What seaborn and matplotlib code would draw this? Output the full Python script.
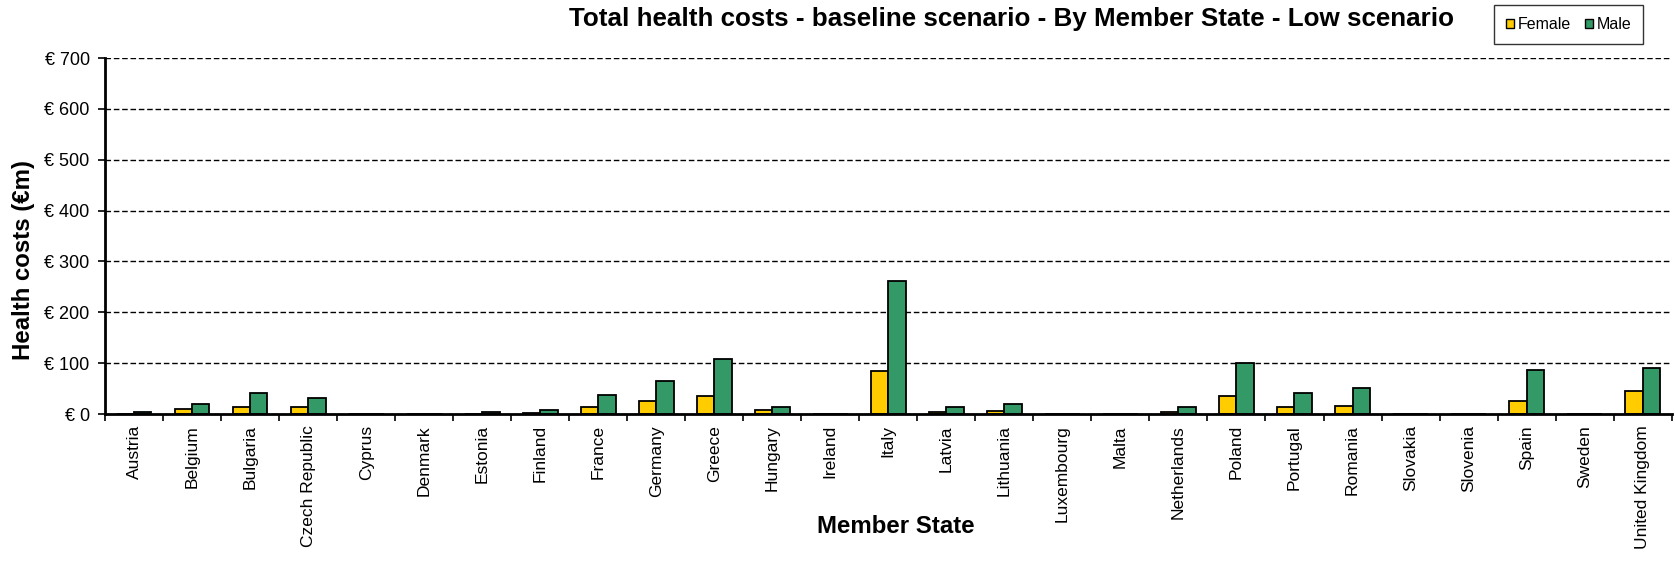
import matplotlib
matplotlib.use("Agg")
import matplotlib.pyplot as plt
from matplotlib.ticker import FixedLocator, FuncFormatter
import seaborn as sns
import pandas as pd

countries = ["Austria", "Belgium", "Bulgaria", "Czech Republic", "Cyprus", "Denmark",
             "Estonia", "Finland", "France", "Germany", "Greece", "Hungary", "Ireland",
             "Italy", "Latvia", "Lithuania", "Luxembourg", "Malta", "Netherlands",
             "Poland", "Portugal", "Romania", "Slovakia", "Slovenia", "Spain", "Sweden",
             "United Kingdom"]
female = [1, 10, 13, 13, 0, 0, 1, 2, 13, 26, 35, 7, 0, 84, 3, 6, 0, 0, 3, 35, 13, 16,
          0, 0, 26, 0, 45]
male = [3, 19, 42, 32, 0, 0, 3, 7, 38, 64, 109, 13, 0, 262, 13, 19, 0, 0, 13, 100, 42,
        52, 0, 0, 87, 0, 90]
series = ["Female", "Male"]
colors = ["#FFCC00", "#339966"]
y_ticks = [0, 100, 200, 300, 400, 500, 600, 700]

df = pd.DataFrame({
    "Member State": countries * 2,
    "Sex": ["Female"] * len(countries) + ["Male"] * len(countries),
    "Cost": female + male,
})

sns.set_theme(style="white")
plt.rcParams["font.family"] = ["Liberation Sans", "DejaVu Sans"]
plt.rcParams.update({"text.color": "black", "axes.labelcolor": "black",
                     "xtick.color": "black", "ytick.color": "black"})

fig = plt.figure(figsize=(16.75, 5.61), dpi=100)
ax = fig.add_axes([0.0627, 0.262, 0.9353, 0.6346])

sns.barplot(data=df, x="Member State", y="Cost", hue="Sex", hue_order=series,
            palette=colors, width=0.6, edgecolor="black", linewidth=1.3,
            saturation=1, ax=ax, legend=False)

ax.set_xlim(-0.5, len(countries) - 0.5)
ax.set_ylim(0, 700)
ax.set_yticks(y_ticks)
ax.yaxis.set_major_formatter(FuncFormatter(lambda v, p: f"\u20ac {int(v)}"))
ax.grid(axis="y", color="black", linestyle=(0, (4, 2)), linewidth=1)
ax.set_axisbelow(True)

ax.set_xticks(range(len(countries)))
ax.set_xticklabels(countries, rotation=90, fontsize=12.5)
ax.xaxis.set_minor_locator(FixedLocator([i - 0.5 for i in range(len(countries) + 1)]))
ax.tick_params(axis="x", which="major", length=0, pad=8)
ax.tick_params(axis="x", which="minor", length=5, width=1.2, color="black", direction="out",
               bottom=True)
ax.tick_params(axis="y", length=5, width=1.2, color="black", direction="out", left=True,
               labelsize=13, pad=6)

for side in ["top", "right"]:
    ax.spines[side].set_visible(False)
for side in ["left", "bottom"]:
    ax.spines[side].set_color("black")
    ax.spines[side].set_linewidth(2)

ax.set_xlabel("")
ax.set_ylabel("")
fig.text(0.535, 0.062, "Member State", ha="center", va="center",
         fontsize=17.3, fontweight="bold")
fig.text(0.014, 0.537, "Health costs (\u20acm)", ha="center", va="center",
         rotation=90, fontsize=17.3, fontweight="bold")

fig.text(0.604, 0.966, "Total health costs - baseline scenario - By Member State - Low scenario",
         ha="center", va="center", fontsize=18.75, fontweight="bold")

handles = [plt.Rectangle((0, 0), 1, 1, facecolor=c, edgecolor="black", linewidth=1)
           for c in colors]
leg = fig.legend(handles, series, loc="upper right", bbox_to_anchor=(0.981, 0.991),
                 borderaxespad=0, ncol=2, frameon=True, fontsize=11.5, handlelength=0.5,
                 handleheight=0.5, handletextpad=0.2, columnspacing=0.9, borderpad=0.75,
                 fancybox=False)
leg.get_frame().set_edgecolor("black")
leg.get_frame().set_linewidth(1)

fig.savefig("out.png", dpi=100)
